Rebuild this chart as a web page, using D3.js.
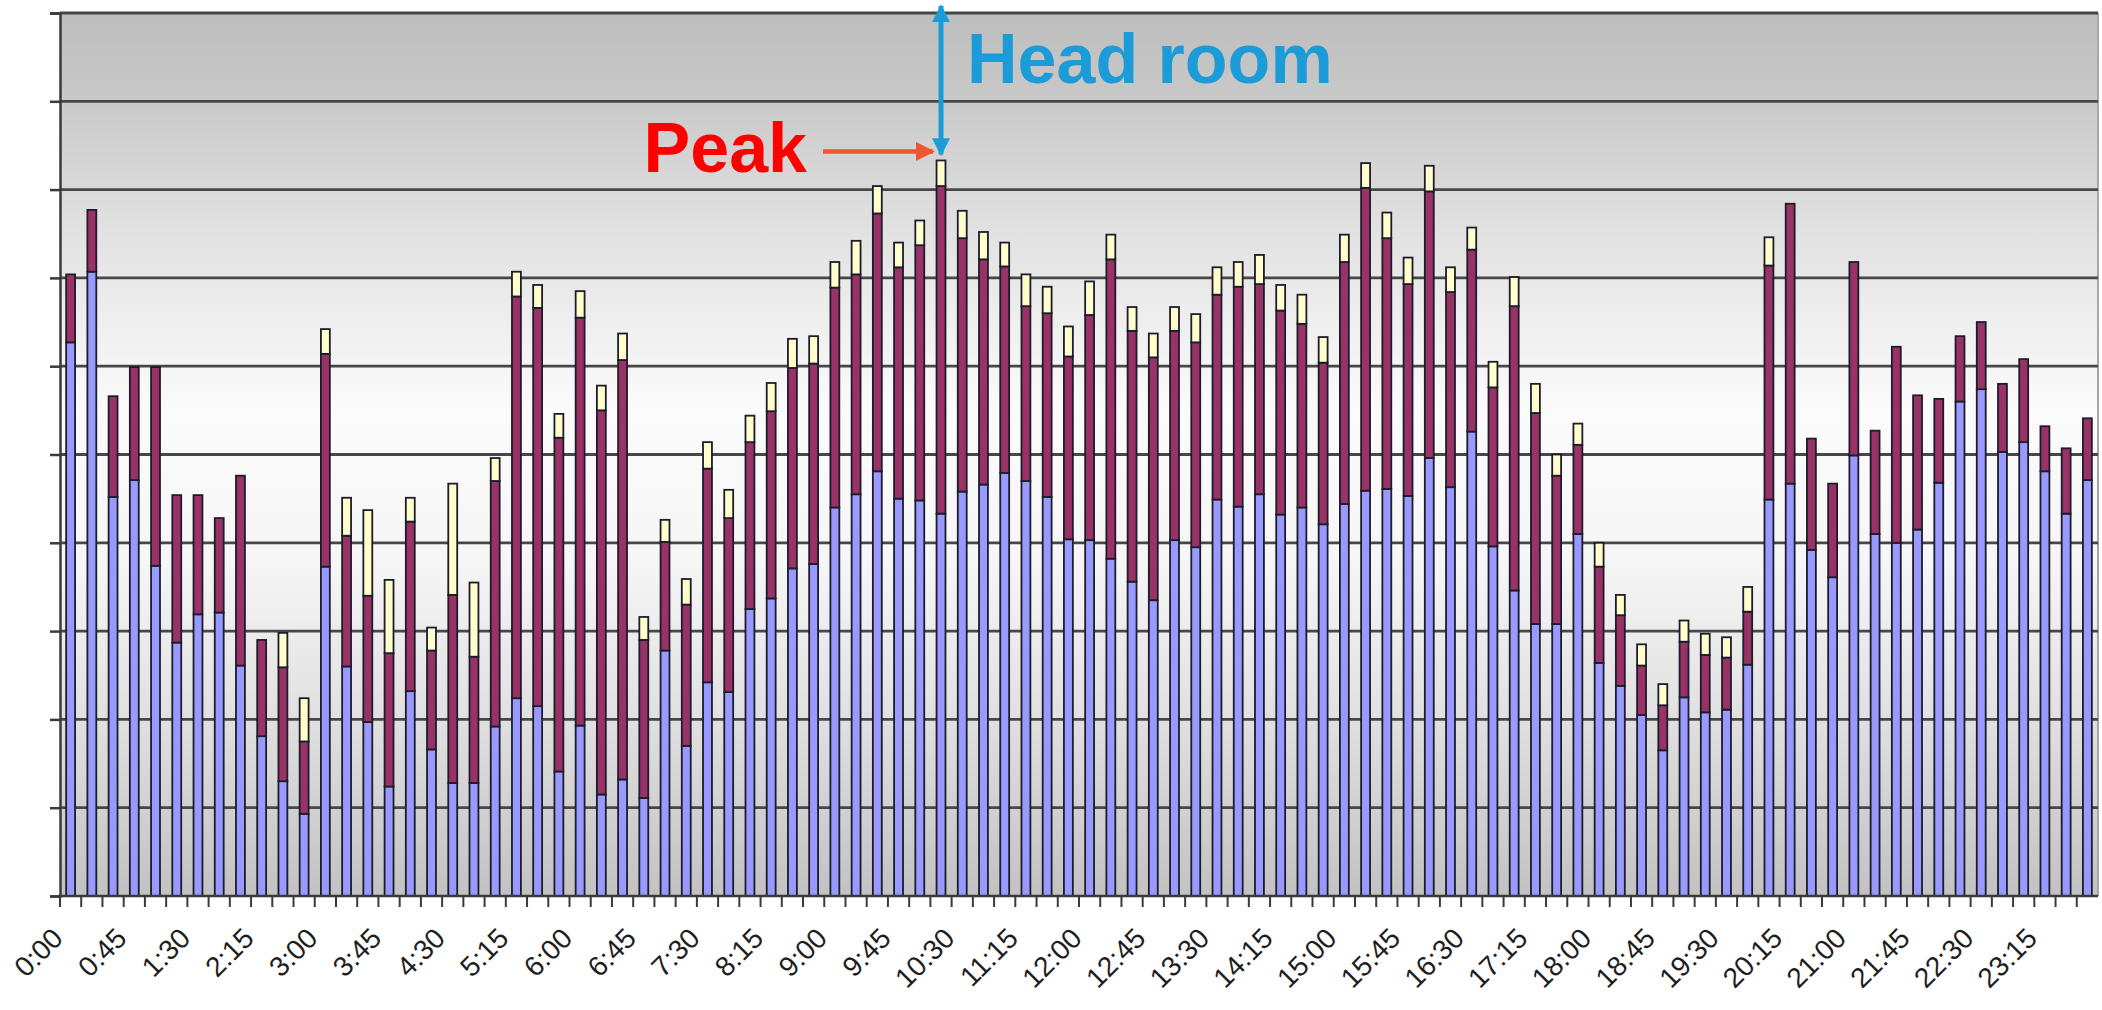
<!DOCTYPE html>
<html>
<head>
<meta charset="utf-8">
<script src="https://cdn.jsdelivr.net/npm/d3@7"></script>
<style>
  html, body { margin: 0; padding: 0; background: #ffffff; }
  svg { display: block; }
</style>
</head>
<body>
<svg id="chart" width="2102" height="1010"></svg>
<script>
// ---- data (units = gridline divisions, 0..10) ----
const times = [];
for (let h = 0; h < 24; h++) for (let m = 0; m < 60; m += 15) times.push(h + ":" + (m === 0 ? "00" : m));

const baseLoad = [6.27,7.07,4.52,4.71,3.74,2.87,3.19,3.21,2.61,1.81,1.30,0.93,
  3.73,2.60,1.97,1.24,2.32,1.66,1.28,1.28,1.92,2.24,2.15,1.41,
  1.93,1.15,1.32,1.11,2.78,1.70,2.42,2.31,3.25,3.37,3.71,3.76,
  4.40,4.55,4.81,4.50,4.48,4.33,4.58,4.66,4.79,4.70,4.52,4.04,
  4.03,3.82,3.56,3.35,4.03,3.95,4.49,4.41,4.55,4.32,4.40,4.21,
  4.44,4.59,4.61,4.53,4.96,4.63,5.26,3.96,3.46,3.08,3.08,4.10,
  2.64,2.38,2.05,1.65,2.25,2.08,2.11,2.62,4.49,4.67,3.92,3.61,
  4.99,4.10,4.00,4.15,4.68,5.60,5.74,5.03,5.14,4.81,4.33,4.71];

const midLoad = [0.77,0.70,1.14,1.28,2.25,1.67,1.35,1.07,2.15,1.09,1.29,0.82,
  2.41,1.48,1.43,1.51,1.92,1.12,2.13,1.43,2.78,4.55,4.51,3.78,
  4.62,4.35,4.75,1.79,1.23,1.60,2.42,1.97,1.89,2.12,2.27,2.27,
  2.49,2.49,2.92,2.62,2.89,3.71,2.87,2.55,2.34,1.98,2.08,2.07,
  2.55,3.39,2.84,2.75,2.37,2.32,2.32,2.49,2.38,2.31,2.08,1.83,
  2.74,3.43,2.84,2.40,3.02,2.21,2.06,1.80,3.22,2.39,1.68,1.01,
  1.09,0.80,0.56,0.51,0.63,0.65,0.59,0.60,2.65,3.17,1.26,1.06,
  2.19,1.17,2.22,1.52,0.95,0.74,0.76,0.77,0.94,0.51,0.74,0.70];

const topLoad = [0,0,0,0,0,0,0,0,0,0,0.39,0.49,
  0.28,0.43,0.97,0.83,0.27,0.26,1.26,0.84,0.26,0.28,0.26,0.27,
  0.30,0.28,0.30,0.26,0.25,0.29,0.30,0.32,0.30,0.32,0.33,0.31,
  0.29,0.38,0.31,0.28,0.28,0.29,0.31,0.31,0.27,0.36,0.30,0.34,
  0.38,0.28,0.27,0.27,0.27,0.32,0.31,0.28,0.33,0.29,0.33,0.29,
  0.31,0.28,0.29,0.30,0.29,0.28,0.25,0.29,0.33,0.33,0.24,0.24,
  0.27,0.23,0.24,0.24,0.24,0.24,0.23,0.28,0.32,0,0,0,
  0,0,0,0,0,0,0,0,0,0,0,0];

const seriesKeys = ["base", "mid", "top"];
const seriesColors = ["#9999FF", "#993366", "#FFFFCC"];
const yTicks = [0,1,2,3,4,5,6,7,8,9,10];
const peakLabel = "Peak";
const headLabel = "Head room";

// ---- layout ----
const pLeft = 60, pRight = 2098, pTop = 13, pBottom = 896;

const rows = times.map((t, i) => ({ time: t, base: baseLoad[i], mid: midLoad[i], top: topLoad[i] }));
const stacked = d3.stack().keys(seriesKeys)(rows);

const x = d3.scaleBand().domain(times).range([pLeft, pRight]).paddingInner(0).paddingOuter(0);
const y = d3.scaleLinear().domain([0, 10]).range([pBottom, pTop]);

const svg = d3.select("#chart");
const defs = svg.append("defs");
const grad = defs.append("linearGradient").attr("id", "bg").attr("x1", 0).attr("y1", 0).attr("x2", 0).attr("y2", 1);
[[0, "#bdbdbd"], [0.1, "#c9c9c9"], [0.25, "#e2e2e2"], [0.45, "#fbfbfb"], [0.62, "#f6f6f6"], [0.8, "#e0e0e0"], [1, "#c2c2c2"]]
  .forEach(([o, c]) => grad.append("stop").attr("offset", o).attr("stop-color", c));

svg.append("rect").attr("x", pLeft).attr("y", pTop).attr("width", pRight - pLeft).attr("height", pBottom - pTop)
  .attr("fill", "url(#bg)");

// right border
svg.append("line").attr("x1", pRight).attr("x2", pRight).attr("y1", pTop).attr("y2", pBottom)
  .attr("stroke", "#a8a8a8").attr("stroke-width", 2);

// gridlines
svg.append("g").selectAll("line").data(yTicks.filter(v => v > 0)).join("line")
  .attr("x1", pLeft).attr("x2", pRight)
  .attr("y1", d => y(d)).attr("y2", d => y(d))
  .attr("stroke", "#474747").attr("stroke-width", 2.8);

// bars
const barW = x.bandwidth() * 0.42;
svg.append("g").selectAll("g").data(stacked).join("g")
  .attr("fill", (d, i) => seriesColors[i])
  .selectAll("rect").data(d => d.filter(s => s[1] - s[0] > 0)).join("rect")
  .attr("x", d => x(d.data.time) + (x.bandwidth() - barW) / 2)
  .attr("y", d => y(d[1]))
  .attr("width", barW)
  .attr("height", d => y(d[0]) - y(d[1]))
  .attr("stroke", "#1c1c2a").attr("stroke-width", 1.8);

// y axis
const yAxis = d3.axisLeft(y).tickValues(yTicks).tickSize(10).tickFormat("");
const gy = svg.append("g").attr("transform", `translate(${pLeft},0)`).call(yAxis);
gy.select(".domain").attr("stroke", "#3a3a3a").attr("stroke-width", 2.5);
gy.selectAll(".tick line").attr("stroke", "#3a3a3a").attr("stroke-width", 2.5);

// x axis (ticks at category boundaries)
svg.append("line").attr("x1", pLeft - 2).attr("x2", pRight).attr("y1", pBottom).attr("y2", pBottom)
  .attr("stroke", "#3a3a3a").attr("stroke-width", 2.5);
svg.append("g").selectAll("line").data(times).join("line")
  .attr("x1", d => x(d)).attr("x2", d => x(d))
  .attr("y1", pBottom).attr("y2", pBottom + 11)
  .attr("stroke", "#3a3a3a").attr("stroke-width", 2);

svg.append("g").selectAll("text").data(times.filter((t, i) => i % 3 === 0)).join("text")
  .attr("transform", d => `translate(${x(d) + x.bandwidth() / 2 - 13},${pBottom + 37}) rotate(-45)`)
  .attr("text-anchor", "end")
  .attr("dy", "0.35em")
  .attr("font-family", "Liberation Sans, Arial, sans-serif")
  .attr("font-size", 28)
  .attr("fill", "#1e1e1e")
  .text(d => d);

// ---- annotations ----
const peakIdx = d3.maxIndex(rows, r => r.base + r.mid + r.top);
const peakX = x(times[peakIdx]) + x.bandwidth() / 2;
const peakY = y(rows[peakIdx].base + rows[peakIdx].mid + rows[peakIdx].top);

defs.append("marker").attr("id", "arrRed").attr("viewBox", "0 0 10 10").attr("refX", 9).attr("refY", 5)
  .attr("markerWidth", 4.2).attr("markerHeight", 4.2).attr("orient", "auto-start-reverse").attr("markerUnits", "strokeWidth")
  .append("path").attr("d", "M0,0 L10,5 L0,10 Z").attr("fill", "#ee5530");
defs.append("marker").attr("id", "arrBlue").attr("viewBox", "0 0 10 10").attr("refX", 9).attr("refY", 5)
  .attr("markerWidth", 3.6).attr("markerHeight", 3.6).attr("orient", "auto-start-reverse").attr("markerUnits", "strokeWidth")
  .append("path").attr("d", "M0,0 L10,5 L0,10 Z").attr("fill", "#1b9bd7");

svg.append("line").attr("x1", peakX - 118).attr("x2", peakX - 8).attr("y1", peakY - 9).attr("y2", peakY - 9)
  .attr("stroke", "#ee5530").attr("stroke-width", 4.5).attr("marker-end", "url(#arrRed)");

svg.append("line").attr("x1", peakX).attr("x2", peakX).attr("y1", 6).attr("y2", peakY - 6)
  .attr("stroke", "#1b9bd7").attr("stroke-width", 5)
  .attr("marker-start", "url(#arrBlue)").attr("marker-end", "url(#arrBlue)");

svg.append("text").attr("x", peakX - 134).attr("y", peakY + 12).attr("text-anchor", "end")
  .attr("font-family", "Liberation Sans, Arial, sans-serif").attr("font-weight", "bold").attr("font-size", 70)
  .attr("fill", "#ff0000").text(peakLabel);

svg.append("text").attr("x", peakX + 26).attr("y", 83)
  .attr("font-family", "Liberation Sans, Arial, sans-serif").attr("font-weight", "bold").attr("font-size", 70)
  .attr("fill", "#1b9bd7").text(headLabel);
</script>
</body>
</html>
